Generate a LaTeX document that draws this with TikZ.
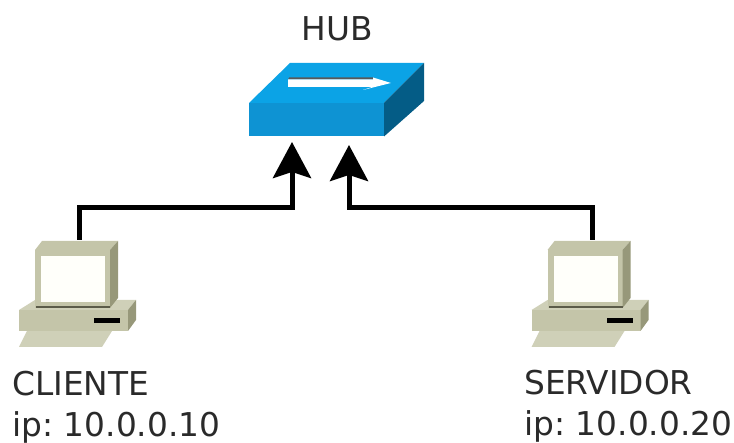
\documentclass[tikz,border=0pt]{standalone}
\usepackage{fontspec}
\setmainfont[WordSpace=0.7]{DejaVu Sans}
\usetikzlibrary{arrows.meta}
\definecolor{hubtop}{HTML}{0BA3E6}
\definecolor{hubfront}{HTML}{0E93D3}
\definecolor{hubside}{HTML}{045C86}
\definecolor{pcfront}{HTML}{C4C5A9}
\definecolor{pctop}{HTML}{CFD0B8}
\definecolor{pcside}{HTML}{97987A}
\definecolor{pcscreen}{HTML}{FFFFFA}
\definecolor{textgray}{HTML}{2A2A2A}
\tikzset{
  wire/.style={line width=5pt,black,-{Stealth[length=36pt,width=38pt,inset=6pt]}},
  label/.style={font=\fontsize{32.8}{40}\selectfont,text=textgray,inner sep=0pt,align=left}
}
% one computer, #1 is the shift from the left one
\newcommand{\pcicon}[1]{
  \begin{scope}[xshift=#1pt]
    % keyboard
    \fill[pctop] (27,331) -- (112,331) -- (102,347) -- (19,347) -- cycle;
    % base
    \fill[pctop] (19,310) -- (35,300) -- (136,300) -- (128,310) -- cycle;
    \fill[pcfront] (19,310) rectangle (128,331);
    \fill[pcside] (128,310) -- (136,300) -- (136,320) -- (128,331) -- cycle;
    \fill[black] (94,318) rectangle (120,323.5);
    % monitor
    \fill[pcfront] (35,250) -- (42,241) -- (118,241) -- (110,250) -- cycle;
    \fill[pcfront] (35,250) rectangle (110,308);
    \fill[pcside] (110,250) -- (118,241) -- (118,298) -- (110,308) -- cycle;
    \fill[pcscreen] (41,256) rectangle (105,302);
    \fill[pcside!60!black] (36,306.5) rectangle (110,308.5);
  \end{scope}
}

\begin{document}
\begin{tikzpicture}[x=1pt,y=-1pt]
  \useasboundingbox (0,0) rectangle (734,443);

  % hub ------------------------------------------------------------------------
  \fill[hubtop] (249,103) -- (290,63) -- (424,63) -- (384,103) -- cycle;
  \fill[hubfront] (249,103) rectangle (384,136.5);
  \fill[hubside] (384,103) -- (424,63) -- (424,101) -- (384,136.5) -- cycle;
  \fill[black!65] (289,77.5) -- (373,77.5) -- (373,79.5) -- (288,79.5) -- cycle;
  \fill[white] (288,79.5) -- (373,79.5) -- (373,77.5) -- (391,83) -- (363,90)
        -- (372,87) -- (288,87) -- cycle;
  \node[label,anchor=base] (hub) at (337.5,41) {HUB};

  % computers ------------------------------------------------------------------
  \pcicon{0}
  \pcicon{512.5}
  \node[label,anchor=north west] (cliente) at (12,371) {CLIENTE\\[1pt]ip: 10.0.0.10};
  \node[label,anchor=north west] (servidor) at (524,370) {SERVIDOR\\[1pt]ip: 10.0.0.20};

  % connectors -----------------------------------------------------------------
  \coordinate (clienteport) at (79,240);
  \coordinate (servidorport) at (592,240);
  \coordinate (hubin1) at (292,142);
  \coordinate (hubin2) at (349,145);
  \draw[wire] (clienteport) -- ++(0,-32) -| (hubin1);
  \draw[wire] (servidorport) -- ++(0,-32) -| (hubin2);
\end{tikzpicture}
\end{document}
